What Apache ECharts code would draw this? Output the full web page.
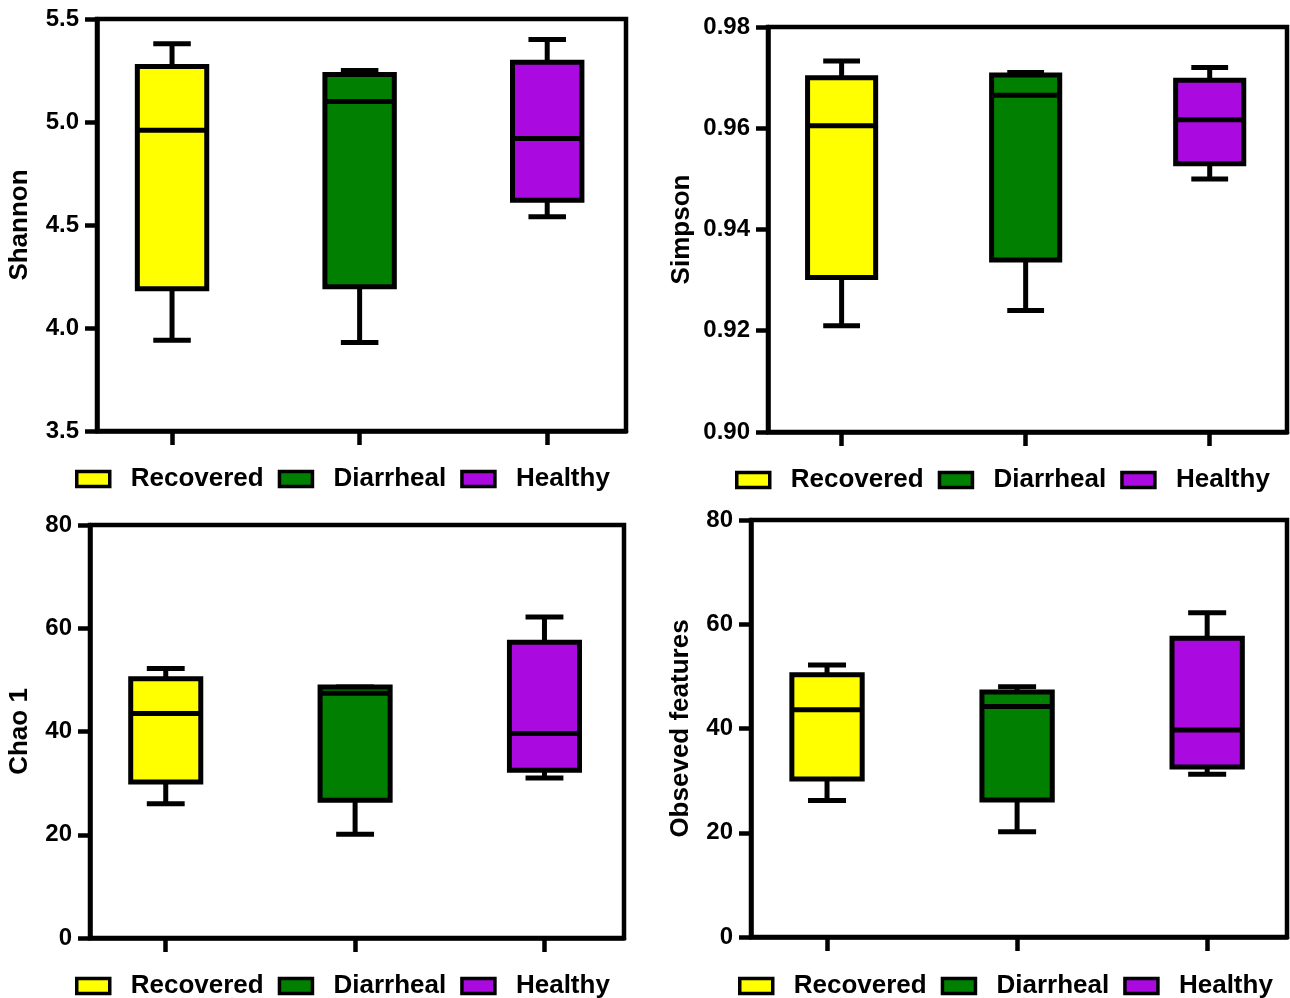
<!DOCTYPE html>
<html>
<head>
<meta charset="utf-8">
<script src="https://cdn.jsdelivr.net/npm/echarts@6/dist/echarts.min.js"></script>
<style>
html,body{margin:0;padding:0;background:#fff;}
#chart{width:1290px;height:998px;}
</style>
</head>
<body>
<div id="chart"></div>
<script>
// ---- data ----
const groups = ['Recovered', 'Diarrheal', 'Healthy'];
const groupPos = [1, 2, 3];
// each row: [min, Q1, median, Q3, max]
const shannon = [
  [3.94, 4.19, 4.96, 5.27, 5.38],
  [3.93, 4.20, 5.10, 5.23, 5.25],
  [4.54, 4.62, 4.92, 5.29, 5.40]
];
const simpson = [
  [0.921, 0.9305, 0.9605, 0.9700, 0.9733],
  [0.924, 0.9340, 0.9665, 0.9705, 0.9710],
  [0.950, 0.9530, 0.9617, 0.9695, 0.9720]
];
const chao1 = [
  [26.0, 30.2, 43.5, 50.2, 52.2],
  [20.1, 26.7, 47.4, 48.6, 48.6],
  [31.0, 32.5, 39.6, 57.3, 62.2]
];
const observed = [
  [26.2, 30.3, 43.6, 50.3, 52.2],
  [20.2, 26.3, 44.2, 47.0, 48.0],
  [31.2, 32.6, 39.7, 57.3, 62.2]
];
const shannonTicks = [3.5, 5.5, 0.5];
const simpsonTicks = [0.90, 0.98, 0.02];
const chaoTicks = [0, 80, 20];
const observedTicks = [0, 80, 20];

// ---- styles ----
const colors = ['#FFFF00', '#007F00', '#AA0AE0'];
const FONT = "'Liberation Sans', Arial, sans-serif";
const BOX_W = 0.37, CAP_W = 0.2, LW = 5, AXW = 4.5;

const panels = [
  {data: shannon, ticks: shannonTicks, name: 'Shannon', dec: 1, grid: {left: 97, top: 19, width: 529, height: 412}, gap: 64, legend: {left: 75, top: 466}},
  {data: simpson, ticks: simpsonTicks, name: 'Simpson', dec: 2, grid: {left: 768, top: 27, width: 519, height: 405}, gap: 73, legend: {left: 735, top: 467}},
  {data: chao1, ticks: chaoTicks, name: 'Chao 1', dec: 0, grid: {left: 90, top: 525, width: 534, height: 413}, gap: 57, legend: {left: 75, top: 973}},
  {data: observed, ticks: observedTicks, name: 'Obseved features', dec: 0, grid: {left: 751, top: 520, width: 536, height: 417}, gap: 57, legend: {left: 738, top: 973}}
];

function renderBox(params, api) {
  const x = api.value(0);
  const color = api.visual('color');
  const pMin = api.coord([x, api.value(1)]);
  const pQ1 = api.coord([x, api.value(2)]);
  const pMed = api.coord([x, api.value(3)]);
  const pQ3 = api.coord([x, api.value(4)]);
  const pMax = api.coord([x, api.value(5)]);
  const cx = pMed[0];
  const half = api.size([BOX_W, 0])[0] / 2;
  const cap = api.size([CAP_W, 0])[0] / 2;
  const ls = {stroke: '#000', lineWidth: LW};
  return {
    type: 'group',
    children: [
      {type: 'line', shape: {x1: cx, y1: pQ3[1], x2: cx, y2: pMax[1]}, style: ls},
      {type: 'line', shape: {x1: cx, y1: pQ1[1], x2: cx, y2: pMin[1]}, style: ls},
      {type: 'line', shape: {x1: cx - cap, y1: pMax[1], x2: cx + cap, y2: pMax[1]}, style: ls},
      {type: 'line', shape: {x1: cx - cap, y1: pMin[1], x2: cx + cap, y2: pMin[1]}, style: ls},
      {type: 'rect', shape: {x: cx - half, y: pQ3[1], width: half * 2, height: pQ1[1] - pQ3[1]},
        style: {fill: color, stroke: '#000', lineWidth: LW}},
      {type: 'line', shape: {x1: cx - half, y1: pMed[1], x2: cx + half, y2: pMed[1]}, style: ls}
    ]
  };
}

const grids = [], xAxes = [], yAxes = [], series = [], legends = [];
panels.forEach((p, i) => {
  grids.push(Object.assign({show: true, borderColor: '#000', borderWidth: AXW, backgroundColor: 'transparent'}, p.grid));
  xAxes.push({
    type: 'value', gridIndex: i, min: 0.6, max: 3.42,
    axisLine: {show: true, onZero: false, lineStyle: {color: '#000', width: AXW}},
    axisTick: {show: true, length: 14, customValues: groupPos, lineStyle: {color: '#000', width: AXW}},
    axisLabel: {show: false},
    splitLine: {show: false}
  });
  yAxes.push({
    type: 'value', gridIndex: i, min: p.ticks[0], max: p.ticks[1], interval: p.ticks[2],
    name: p.name, nameLocation: 'middle', nameRotate: 90, nameGap: p.gap,
    nameTextStyle: {fontFamily: FONT, fontWeight: 'bold', fontSize: 26, color: '#000', verticalAlign: 'bottom'},
    axisLine: {show: true, lineStyle: {color: '#000', width: AXW}},
    axisTick: {show: true, length: 12, lineStyle: {color: '#000', width: AXW}},
    axisLabel: {fontFamily: FONT, fontWeight: 'bold', fontSize: 24, color: '#000', margin: 18,
      formatter: v => Number(v).toFixed(p.dec)},
    splitLine: {show: false}
  });
  groups.forEach((g, j) => {
    series.push({
      type: 'custom', name: g, xAxisIndex: i, yAxisIndex: i,
      itemStyle: {color: colors[j], borderColor: '#000', borderWidth: 3.5},
      renderItem: renderBox,
      encode: {x: 0, y: [1, 2, 3, 4, 5]},
      clip: false,
      data: [[groupPos[j]].concat(p.data[j])]
    });
  });
  legends.push({
    left: p.legend.left, top: p.legend.top, orient: 'horizontal', padding: 0,
    data: groups, icon: 'rect', itemWidth: 33, itemHeight: 15, itemGap: 14,
    itemStyle: {borderColor: '#000', borderWidth: 3.5},
    textStyle: {fontFamily: FONT, fontWeight: 'bold', fontSize: 26, color: '#000', padding: [0, 0, 0, 16]},
    selectedMode: false
  });
});

const chart = echarts.init(document.getElementById('chart'), null, {renderer: 'canvas'});
chart.setOption({
  animation: false,
  backgroundColor: '#fff',
  grid: grids, xAxis: xAxes, yAxis: yAxes, series: series, legend: legends
});
</script>
</body>
</html>
